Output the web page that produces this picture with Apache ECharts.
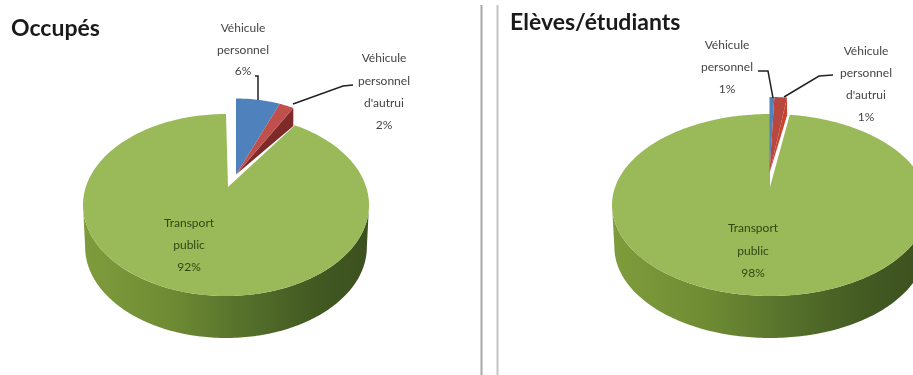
<!DOCTYPE html>
<html><head><meta charset="utf-8">
<style>html,body{margin:0;padding:0;background:#fff}#c{width:913px;height:375px;filter:blur(0.6px)}</style>
<script src="https://cdn.jsdelivr.net/npm/echarts@6/dist/echarts.min.js"></script>
</head><body><div id="c"></div>
<script>
const categories = ["Véhicule\npersonnel", "Véhicule\npersonnel\nd'autrui", "Transport\npublic"];
const occupes = [6, 2, 92];
const eleves = [0.55, 1.45, 98];
const titles = ["Occupés", "Elèves/étudiants"];

const chart = echarts.init(document.getElementById('c'), null, {renderer:'canvas'});
const C = {blue:'#4f81bd', red:'#c0504d', green:'#9ab958'};
const layouts = [
  {cx:226, cy:205, rx:143, ry:91, depth:42, apex:[228,187], wedge:[236,174.5], wrx:119, wry:76, wallDrop:18, wallColor:'#7d2a28', red:C.red,
   labels:[[243,[28,50,71]],[384,[58,81,103,125]],[189,[223,245,267]]],
   leaders:[[[255,76],[258,76],[258,100]], [[353,85],[343,86],[293,104]]]},
  {cx:770, cy:205, rx:158, ry:91, depth:42, apex:[770,187], wedge:[769.5,173], wrx:140, wry:76, wallDrop:18, wallColor:'#c8442c', red:'#b8483f',
   labels:[[727,[45,67,89]],[866,[51,73,95,117]],[753,[228,251,273]]],
   leaders:[[[758,71],[768,71],[773,98]], [[833,75],[819,76],[784,97]]]}
];
function pt(c, rx, ry, a){ return [c[0]+rx*Math.sin(a), c[1]-ry*Math.cos(a)]; }
function arc(c, rx, ry, a0, a1){
  const n = Math.max(2, Math.ceil(Math.abs(a1-a0)/0.02)), out=[];
  for(let i=0;i<=n;i++) out.push(pt(c,rx,ry,a0+(a1-a0)*i/n));
  return out;
}
function makeRender(L, values){
  const total = values.reduce((a,b)=>a+b,0);
  return function(params, api){
    const i = params.dataIndex, v = api.value(0);
    let before = 0; for(let k=0;k<i;k++) before += values[k];
    const a0 = before/total*2*Math.PI, a1 = (before+v)/total*2*Math.PI;
    const kids = [];
    if(i===2){
      const c=[L.cx,L.cy];
      const top = arc(c,L.rx,L.ry,Math.PI/2,Math.PI*1.5);
      const bot = arc([L.cx,L.cy+L.depth],L.rx*0.985,L.ry,Math.PI*1.5,Math.PI/2);
      kids.push({type:'polygon',z2:1,shape:{points:top.concat(bot)},style:{fill:new echarts.graphic.LinearGradient(0,0,1,0,[
        {offset:0,color:'#7f9c3c'},{offset:0.3,color:'#6f8c34'},{offset:0.55,color:'#56722b'},{offset:0.8,color:'#435a22'},{offset:1,color:'#3c5020'}])}});
      kids.push({type:'polygon',z2:2,shape:{points:[L.apex].concat(arc(c,L.rx,L.ry,a0,a1))},style:{fill:C.green}});
    } else {
      const color = i===0?C.blue:L.red;
      if(i===1){
        const e = pt(L.wedge,L.wrx,L.wry,a1);
        kids.push({type:'polygon',z2:3,shape:{points:[L.wedge,e,[e[0],e[1]+L.wallDrop]]},style:{fill:L.wallColor}});
      }
      kids.push({type:'polygon',z2:4,shape:{points:[L.wedge].concat(arc(L.wedge,L.wrx,L.wry,a0,a1))},style:{fill:color}});
      const ld = L.leaders[i];
      kids.push({type:'polyline',z2:5,shape:{points:ld},style:{fill:'none',stroke:'#222',lineWidth:1.5}});
    }
    const lines = categories[i].split('\n').concat([Math.round(v)+'%']);
    const lab = L.labels[i];
    lines.forEach((t,j)=>kids.push({type:'text',z2:10,style:{x:lab[0],y:lab[1][j],text:t,align:'center',verticalAlign:'middle',
      font:'12px Lato', fill:i===2?'#2d4a14':'#444'}}));
    return {type:'group',children:kids};
  };
}
chart.setOption({
  animation:false,
  backgroundColor:'#fff',
  series:[
    {type:'custom',coordinateSystem:'none',name:titles[0],renderItem:makeRender(layouts[0],occupes),data:occupes.map(v=>[v])},
    {type:'custom',coordinateSystem:'none',name:titles[1],renderItem:makeRender(layouts[1],eleves),data:eleves.map(v=>[v])}
  ],
  graphic:[
    {type:'text',left:11,top:17,style:{text:titles[0],font:'bold 23px Lato',fill:'#1a1a1a'}},
    {type:'text',left:510,top:11,style:{text:titles[1],font:'bold 23px Lato',fill:'#1a1a1a'}},
    {type:'line',shape:{x1:481.5,y1:5,x2:481.5,y2:375},style:{stroke:'#a8a8a8',lineWidth:2}},
    {type:'line',shape:{x1:497.5,y1:5,x2:497.5,y2:375},style:{stroke:'#c4c4c4',lineWidth:2}}
  ]
});
</script></body></html>
